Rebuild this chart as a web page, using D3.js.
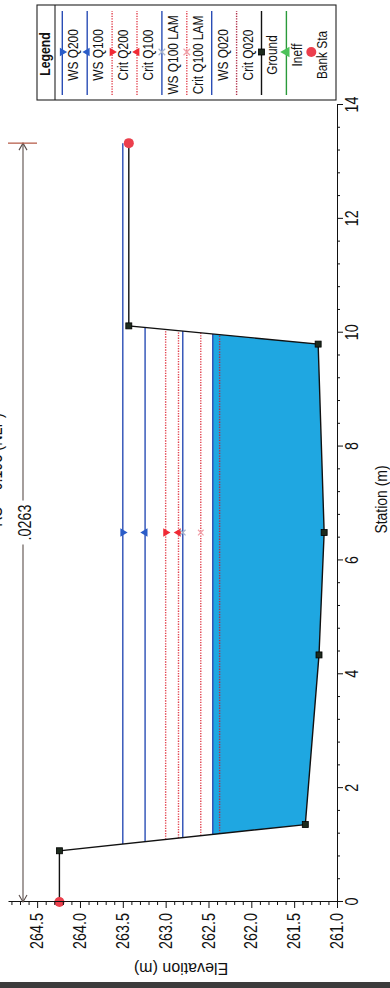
<!DOCTYPE html>
<html><head><meta charset="utf-8">
<script src="https://cdn.jsdelivr.net/npm/d3@7"></script>
<style>html,body{margin:0;padding:0;background:#fff;} svg{display:block;}</style>
</head><body>
<svg id="chart" width="390" height="988"></svg>
<script>
// ---------------- data ----------------
const stations   = [0, 0.90, 1.36, 4.34, 6.49, 9.80, 10.12, 13.33];
const groundElev = [264.24, 264.24, 261.37, 261.21, 261.15, 261.22, 263.43, 263.43];
const profileNames = ["WS Q200","WS Q100","Crit Q200","Crit Q100","WS Q100 LAM","Crit Q100 LAM","WS Q020","Crit Q020"];
const profileElev  = [263.50, 263.24, 263.00, 262.85, 262.80, 262.59, 262.45, 262.37];
const fillProfile  = ["WS Q020"];
const bankStations = [0, 13.33];
const bankElev     = [264.24, 263.43];
const nValues      = [".0263"];
const nRange       = [0, 13.33];
const markerStation = [6.49];
const stationTicks = [0, 2, 4, 6, 8, 10, 12, 14];
const elevTicks    = [261.0, 261.5, 262.0, 262.5, 263.0, 263.5, 264.0, 264.5];
const legendNames  = ["WS Q200","WS Q100","Crit Q200","Crit Q100","WS Q100 LAM","Crit Q100 LAM","WS Q020","Crit Q020","Ground","Ineff","Bank Sta"];
const titleText    = ["RS = 0.195   (NLP)"];
const axisTitles   = ["Station (m)", "Elevation (m)"];

// ---------------- styles ----------------
const FONT = "'Liberation Sans', Arial, sans-serif";
const SQ = 0.82;
const BLUE = "#2a4db5", RED = "#e2434f";
const style = {
  "WS Q200":       {color: BLUE, dash: null,      marker: "triDown", mcolor: "#2a5cc8"},
  "WS Q100":       {color: BLUE, dash: null,      marker: "triUp",   mcolor: "#2a5cc8"},
  "Crit Q200":     {color: RED,  dash: "1.3,1.3", marker: "triDown", mcolor: "#f02a35"},
  "Crit Q100":     {color: RED,  dash: "1.3,1.3", marker: "triUp",   mcolor: "#f02a35"},
  "WS Q100 LAM":   {color: BLUE, dash: null,      marker: "x",       mcolor: "#a8b4cc"},
  "Crit Q100 LAM": {color: RED,  dash: "1.3,1.3", marker: "x",       mcolor: "#f0a0a8"},
  "WS Q020":       {color: BLUE, dash: null,      marker: null},
  "Crit Q020":     {color: "#b0304a", dash: "1.3,1.3", marker: null},
  "Ground":        {color: "#111", dash: null,    marker: "square",  mcolor: "#1d2a1d"},
  "Ineff":         {color: "#2a9a3a", dash: null, marker: "triUp",   mcolor: "#4cc25a"},
  "Bank Sta":      {color: null, dash: null,      marker: "circle",  mcolor: "#ec3f4c"}
};

// horizontal squeeze around each text's own anchor x (the scan is narrower than tall)
function squeeze(sel, k = SQ) {
  sel.each(function () {
    const t = d3.select(this);
    const x0 = +(t.attr("x") || 0);
    const prev = t.attr("transform") || "";
    t.attr("transform", `${prev} translate(${x0},0) scale(${k},1) translate(${-x0},0)`);
  });
}

function drawMarker(g, type, cx, cy, color, sz) {
  if (!type) return;
  if (type === "circle") {
    g.append("circle").attr("cx", cx).attr("cy", cy).attr("r", 5).attr("fill", color);
  } else if (type === "square") {
    g.append("rect").attr("x", cx - 3).attr("y", cy - 3).attr("width", 6).attr("height", 6)
      .attr("fill", color).attr("stroke", "#000").attr("stroke-width", 0.8);
  } else if (type === "x") {
    g.append("path").attr("d", d3.symbol().type(d3.symbolX).size(sz || 22)())
      .attr("transform", `translate(${cx},${cy})`).attr("fill", "none")
      .attr("stroke", color).attr("stroke-width", 1.2);
  } else {
    const rot = type === "triDown" ? 180 : 0;
    g.append("path").attr("d", d3.symbol().type(d3.symbolTriangle).size(sz || 30)())
      .attr("transform", `translate(${cx},${cy}) rotate(${rot})`).attr("fill", color);
  }
}

// ---------------- chart (drawn landscape, rotated) ----------------
const svg = d3.select("#chart");
const g = svg.append("g").attr("transform", "translate(0,988) rotate(-90)");

const x = d3.scaleLinear().domain([0, 14]).range([86, 883]);
const y = d3.scaleLinear().domain([261, 264.84]).range([337, 8]);

function crossings(e) {
  let left = stations[0], right = stations[stations.length - 1];
  for (let i = 0; i < stations.length - 1; i++) {
    const a = groundElev[i], b = groundElev[i + 1];
    if (a >= e && b < e) { left = stations[i] + (a - e) / (a - b) * (stations[i + 1] - stations[i]); break; }
  }
  for (let i = stations.length - 1; i > 0; i--) {
    const a = groundElev[i], b = groundElev[i - 1];
    if (a >= e && b < e) { right = stations[i] - (a - e) / (a - b) * (stations[i] - stations[i - 1]); break; }
  }
  return [left, right];
}

// water fill
const fe = profileElev[profileNames.indexOf(fillProfile[0])];
const [fl, fr] = crossings(fe);
const poly = [[fl, fe]];
stations.forEach((s, i) => { if (s > fl && s < fr) poly.push([s, groundElev[i]]); });
poly.push([fr, fe]);
g.append("path").attr("d", d3.line().x(d => x(d[0])).y(d => y(d[1]))(poly) + "Z")
  .attr("fill", "#1fa7e1");

// profile lines
profileNames.forEach((name, i) => {
  const e = profileElev[i];
  const [l, r] = crossings(e);
  const st = style[name];
  g.append("line").attr("x1", x(l)).attr("x2", x(r)).attr("y1", y(e)).attr("y2", y(e))
    .attr("stroke", st.color).attr("stroke-width", 1.4)
    .attr("stroke-dasharray", st.dash);
  drawMarker(g, st.marker, x(markerStation[0]), y(e), st.mcolor);
});

// ground
g.append("path").attr("d", d3.line().x((d, i) => x(d)).y((d, i) => y(groundElev[i]))(stations))
  .attr("fill", "none").attr("stroke", "#111").attr("stroke-width", 1.4);
stations.forEach((s, i) => drawMarker(g, "square", x(s), y(groundElev[i]), style["Ground"].mcolor));
bankStations.forEach((s, i) => drawMarker(g, "circle", x(s), y(bankElev[i]), style["Bank Sta"].mcolor));

// axes
const ax = g.append("g").attr("transform", `translate(0,${y(261)})`)
  .call(d3.axisBottom(x).tickValues(stationTicks).tickSize(6).tickSizeOuter(0).tickPadding(3));
const axm = g.append("g").attr("transform", `translate(0,${y(261)})`)
  .call(d3.axisBottom(x).tickValues(d3.range(0, 14.01, 0.4).filter(v => Math.abs(v / 2 - Math.round(v / 2)) > 0.01)).tickSize(3).tickFormat(""));
axm.select(".domain").remove();
const ay = g.append("g").attr("transform", `translate(${x(0)},0)`)
  .call(d3.axisLeft(y).tickValues(elevTicks).tickFormat(d3.format(".1f")).tickSize(6).tickSizeOuter(0).tickPadding(5));
const aym = g.append("g").attr("transform", `translate(${x(0)},0)`)
  .call(d3.axisLeft(y).tickValues(d3.range(261.1, 264.85, 0.1).filter(v => Math.abs(v * 2 - Math.round(v * 2)) > 0.01)).tickSize(3).tickFormat(""));
aym.select(".domain").remove();
[ax, axm, ay, aym].forEach(a => {
  a.selectAll("path,line").attr("stroke", "#111");
  a.selectAll("text").attr("font-family", FONT).attr("font-size", 17.5).attr("fill", "#111");
});
ax.selectAll("text").call(squeeze);
ay.selectAll("text").call(squeeze);

// axis titles
g.append("text").attr("x", (x(0) + x(14)) / 2 + 4).attr("y", 387).attr("text-anchor", "middle")
  .attr("font-family", FONT).attr("font-size", 17).attr("fill", "#111").text(axisTitles[0]).call(squeeze);
g.append("text").attr("transform", `translate(25,${y(262.82)}) rotate(-90)`).attr("text-anchor", "middle")
  .attr("font-family", FONT).attr("font-size", 16).attr("fill", "#111").text(axisTitles[1]);

// title (almost entirely outside the picture, as in the scan)
g.append("text").attr("x", 518).attr("y", 1.5).attr("text-anchor", "middle")
  .attr("font-family", FONT).attr("font-size", 17.5).attr("fill", "#111").text(titleText[0]).call(squeeze);

// Manning's n dimension line
const dimY = 23, nx0 = x(nRange[0]), nx1 = x(nRange[1]), nmid = (nx0 + nx1) / 2;
const dim = g.append("g").attr("stroke", "#5a4d4a").attr("stroke-width", 1.1).attr("fill", "none");
dim.append("line").attr("x1", nx0).attr("x2", nmid - 22).attr("y1", dimY).attr("y2", dimY);
dim.append("line").attr("x1", nmid + 22).attr("x2", nx1).attr("y1", dimY).attr("y2", dimY);
dim.append("path").attr("d", `M${nx0 + 7},${dimY - 4}L${nx0},${dimY}L${nx0 + 7},${dimY + 4}`);
dim.append("path").attr("d", `M${nx1 - 7},${dimY - 4}L${nx1},${dimY}L${nx1 - 7},${dimY + 4}`);
g.append("line").attr("x1", nx1).attr("x2", nx1).attr("y1", 8).attr("y2", 37)
  .attr("stroke", "#b8604e").attr("stroke-width", 1.3);
g.append("text").attr("x", nmid).attr("y", 31.5).attr("text-anchor", "middle")
  .attr("font-family", FONT).attr("font-size", 17.5).attr("fill", "#111").text(nValues[0]).call(squeeze);

// legend
const lg = g.append("g");
lg.append("rect").attr("x", 888).attr("y", 37).attr("width", 95).attr("height", 299)
  .attr("fill", "#fff").attr("stroke", "#222").attr("stroke-width", 1.1);
lg.append("line").attr("x1", 888).attr("x2", 983).attr("y1", 55).attr("y2", 55)
  .attr("stroke", "#222").attr("stroke-width", 1.1);
lg.append("text").attr("x", 934).attr("y", 50).attr("text-anchor", "middle")
  .attr("font-family", FONT).attr("font-weight", "bold").attr("font-size", 15).attr("fill", "#111")
  .text("Legend").call(squeeze);
legendNames.forEach((name, i) => {
  const ly = 62.3 + 24.9 * i;
  const st = style[name];
  if (st.color) {
    lg.append("line").attr("x1", 893).attr("x2", 977).attr("y1", ly).attr("y2", ly)
      .attr("stroke", st.color).attr("stroke-width", 1.4).attr("stroke-dasharray", st.dash);
  }
  drawMarker(lg, st.marker, 936, ly, st.mcolor, name === "Ineff" ? 50 : 30);
  lg.append("text").attr("x", 933).attr("y", ly + 16).attr("text-anchor", "middle")
    .attr("font-family", FONT).attr("font-size", 14.5).attr("fill", "#111").text(name).call(squeeze);
});

// scan edge at the bottom of the page
svg.append("rect").attr("x", 0).attr("y", 982).attr("width", 390).attr("height", 6).attr("fill", "#3c3c3c");
</script>
</body></html>
